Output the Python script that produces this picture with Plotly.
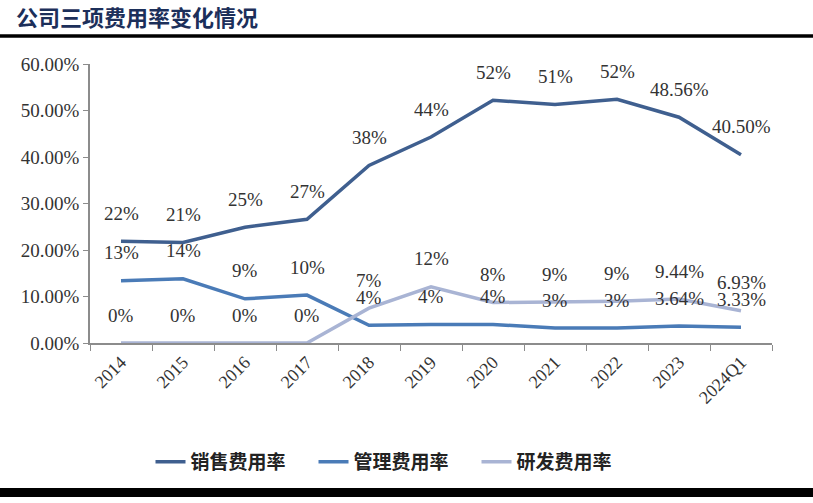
import plotly.graph_objects as go

categories = ["2014", "2015", "2016", "2017", "2018", "2019", "2020", "2021", "2022", "2023", "2024Q1"]
sales_rate = [21.9, 21.6, 24.9, 26.6, 38.2, 44.3, 52.2, 51.3, 52.4, 48.56, 40.50]
mgmt_rate = [13.4, 13.8, 9.5, 10.3, 3.8, 4.0, 4.0, 3.2, 3.2, 3.64, 3.40]
rd_rate = [0, 0, 0, 0, 7.5, 12.1, 8.7, 8.8, 9.0, 9.44, 6.93]
sales_labels = ["22%", "21%", "25%", "27%", "38%", "44%", "52%", "51%", "52%", "48.56%", "40.50%"]
mgmt_labels = ["13%", "14%", "9%", "10%", "4%", "4%", "4%", "3%", "3%", "3.64%", "3.33%"]
rd_labels = ["0%", "0%", "0%", "0%", "7%", "12%", "8%", "9%", "9%", "9.44%", "6.93%"]
series_names = ["销售费用率", "管理费用率", "研发费用率"]
y_ticks = [0, 10, 20, 30, 40, 50, 60]
y_tick_text = ["0.00%", "10.00%", "20.00%", "30.00%", "40.00%", "50.00%", "60.00%"]
title_text = "公司三项费用率变化情况"

colors = ["#3f5f8f", "#4a7bb7", "#a9b4d4"]
serif = "Liberation Serif"
cjk = "Noto Sans CJK SC"

fig = go.Figure()
for name, vals, col in zip(series_names, [sales_rate, mgmt_rate, rd_rate], colors):
    fig.add_trace(go.Scatter(x=categories, y=vals, mode="lines", name=name,
                             line=dict(color=col, width=3.5)))

annotations = []
for vals, labs in [(sales_rate, sales_labels), (mgmt_rate, mgmt_labels), (rd_rate, rd_labels)]:
    for i, (v, t) in enumerate(zip(vals, labs)):
        annotations.append(dict(x=i, y=v, text=t, showarrow=False, xref="x", yref="y",
                                yshift=28, xanchor="center", yanchor="middle",
                                font=dict(family=serif, size=19, color="#333333")))

L, R, T, B = 90, 41, 64, 160
W, H = 813, 503
pw, ph = W - L - R, H - T - B

def px_x(px):
    return (px - L) / pw

def px_y(py):
    return (H - B - py) / ph

shapes = [
    dict(type="line", xref="paper", yref="paper", x0=px_x(0), x1=px_x(W),
         y0=px_y(36), y1=px_y(36), line=dict(color="black", width=3.5)),
    dict(type="rect", xref="paper", yref="paper", x0=px_x(0), x1=px_x(W),
         y0=px_y(497), y1=px_y(488), fillcolor="black", line=dict(width=0)),
]

fig.update_layout(
    width=W, height=H,
    margin=dict(l=L, r=R, t=T, b=B),
    paper_bgcolor="white", plot_bgcolor="white",
    title=dict(text=title_text, xref="container", yref="container",
               x=16 / W, xanchor="left", y=1 - 18 / H, yanchor="middle",
               font=dict(family=cjk, size=22, color="#1c2f5a", weight="bold")),
    xaxis=dict(type="category", range=[-0.5, len(categories) - 0.5], showgrid=False,
               showline=True, linecolor="#8c8c8c", linewidth=1.5,
               ticks="outside", ticklen=6, tickcolor="#8c8c8c", tickson="boundaries",
               tickangle=-45, tickfont=dict(family=serif, size=18, color="#333333")),
    yaxis=dict(range=[0, 60], tickvals=y_ticks, ticktext=y_tick_text, showgrid=False,
               zeroline=False, showline=True, linecolor="#8c8c8c", linewidth=1.5,
               ticks="outside", ticklen=5, tickcolor="#8c8c8c",
               tickfont=dict(family=serif, size=19, color="#333333")),
    legend=dict(orientation="h", x=px_x(395), xanchor="center", y=px_y(462), yanchor="middle",
                font=dict(family=cjk, size=19, color="#222222", weight="bold"),
                entrywidth=118, bgcolor="rgba(0,0,0,0)"),
    annotations=annotations,
    shapes=shapes,
)

fig.write_html("out.html")
